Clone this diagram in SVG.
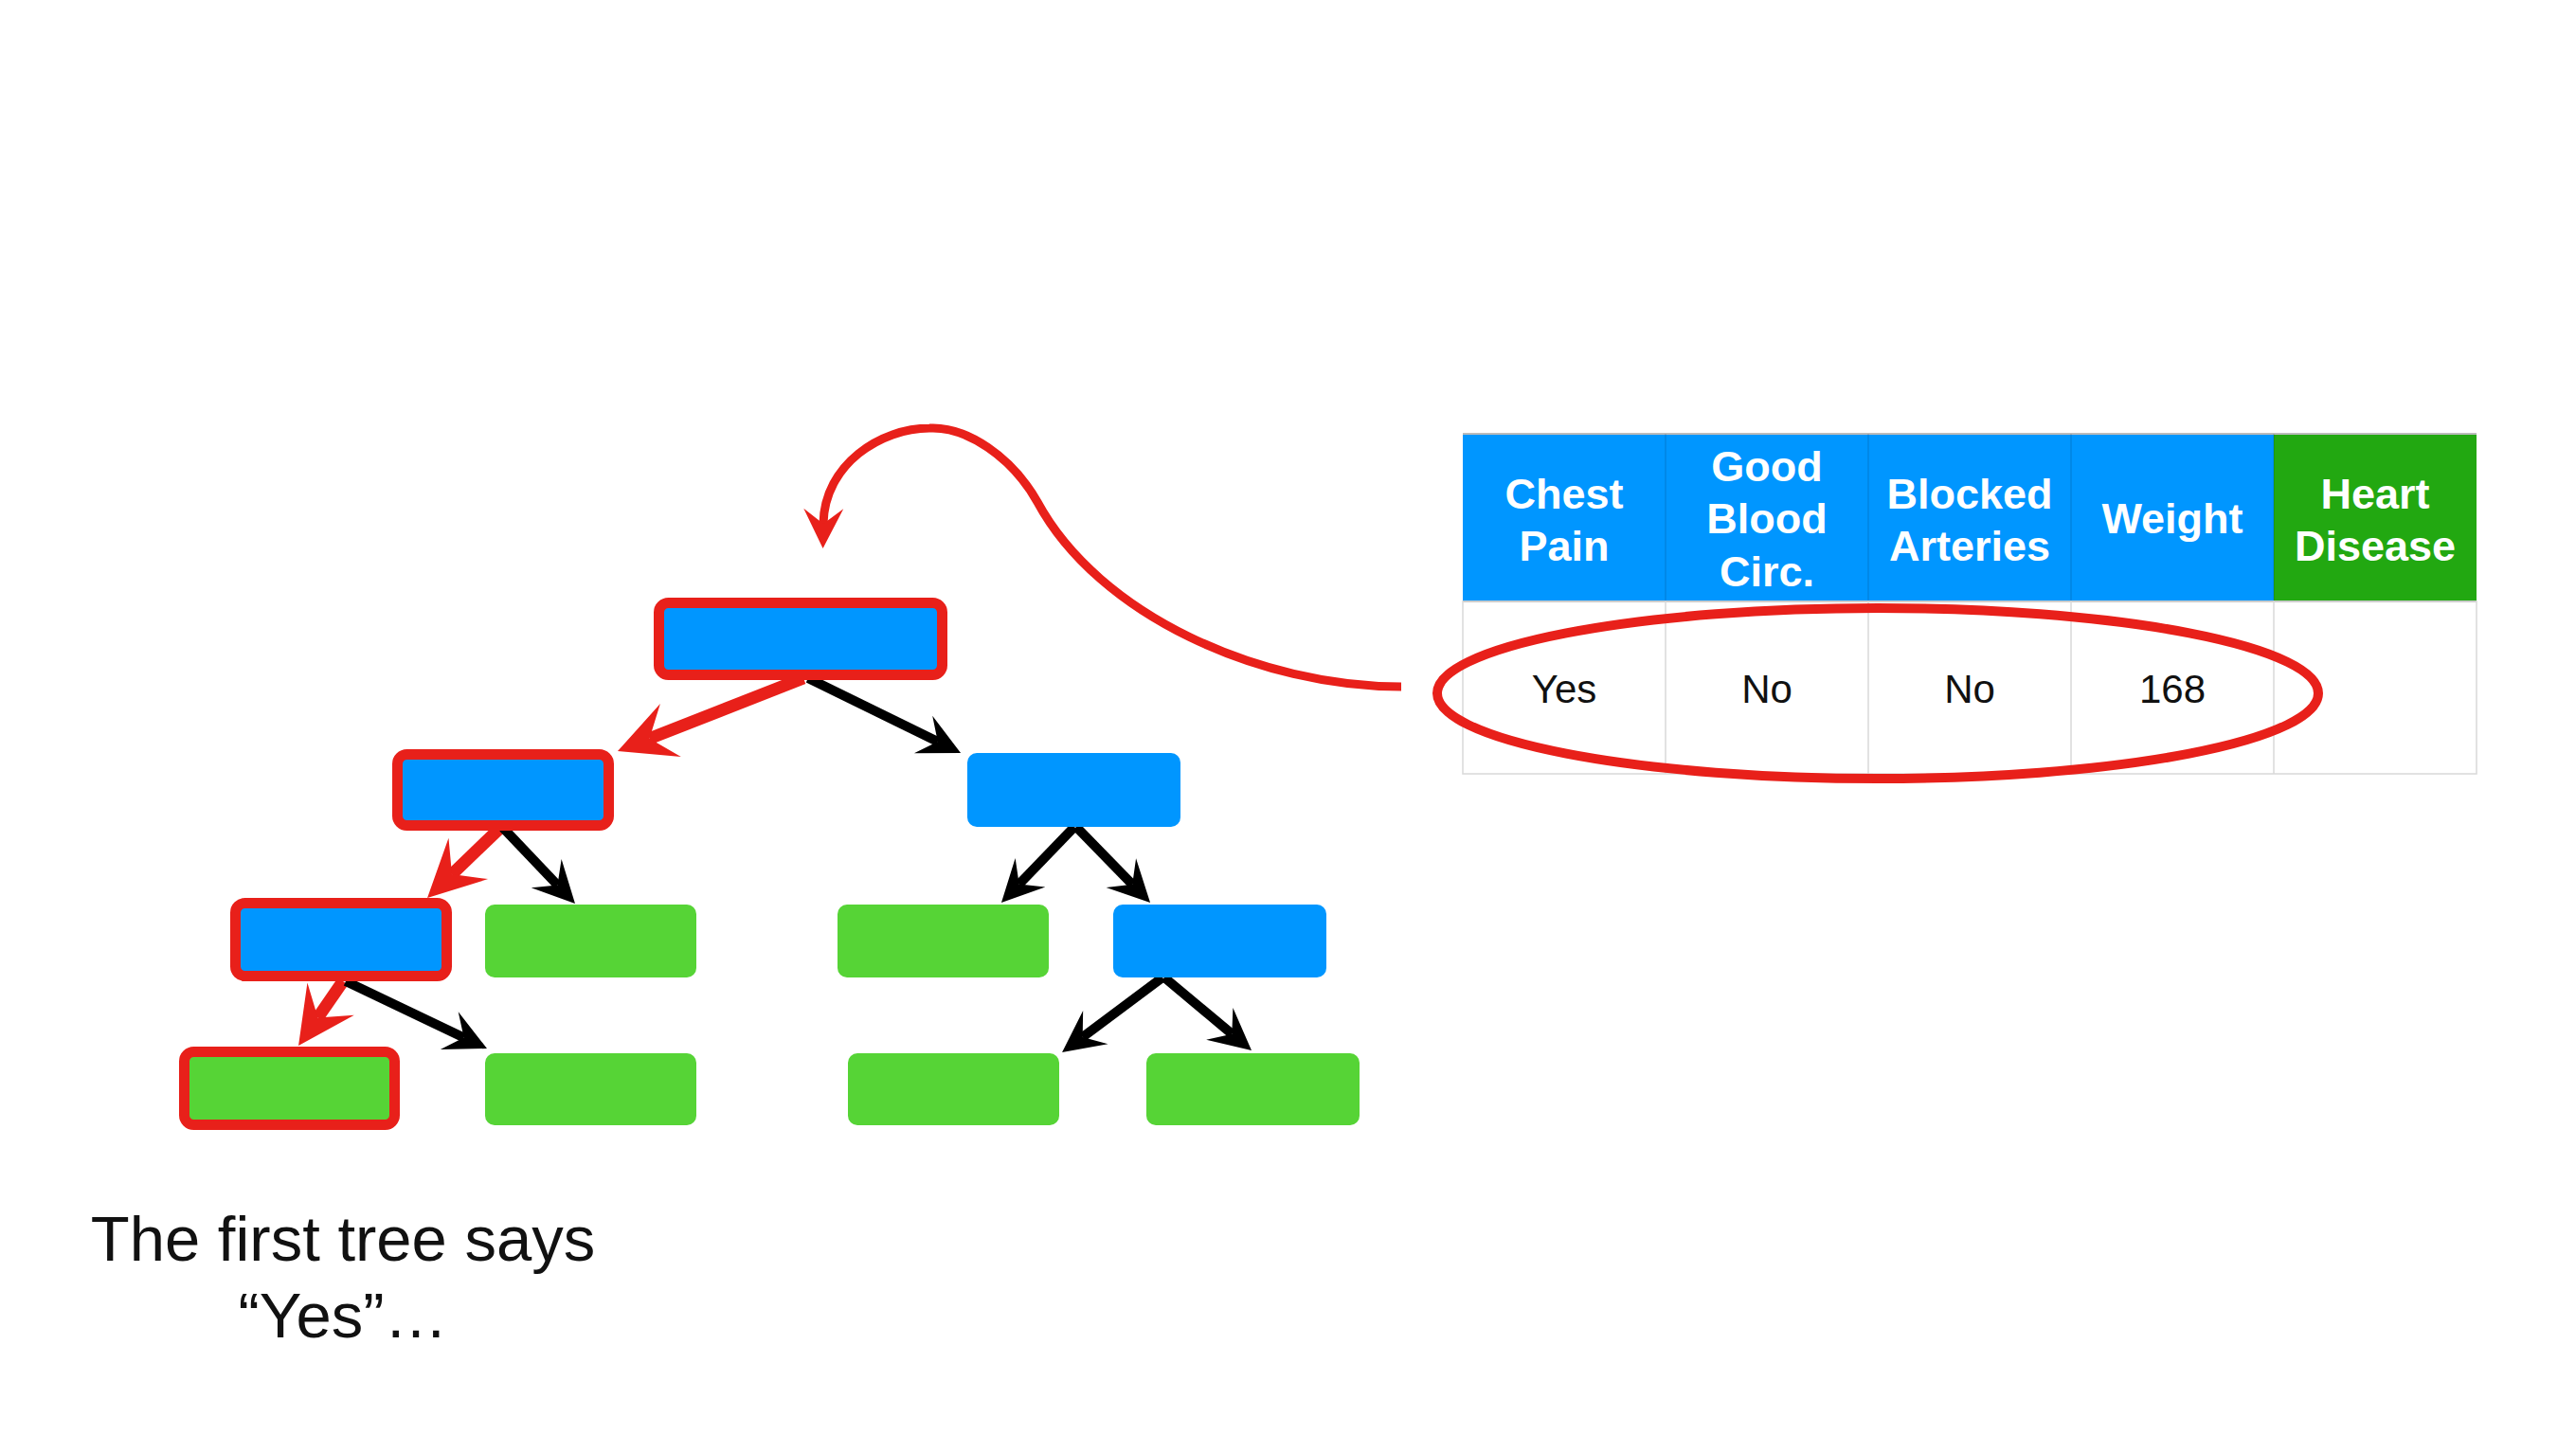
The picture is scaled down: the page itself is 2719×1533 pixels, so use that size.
<svg xmlns="http://www.w3.org/2000/svg" width="2719" height="1533" viewBox="0 0 2719 1533">
<style>
.blue{fill:#0096FF}
.green{fill:#56D436}
.hl{stroke:#E8201A;stroke-width:11}
.red-line{stroke:#E8201A;stroke-width:13;fill:none}
.blk-line{stroke:#000;stroke-width:10;fill:none}
.curve{stroke:#E8201A;stroke-width:9;fill:none}
.hdr{font-family:"Liberation Sans",Arial,sans-serif;font-weight:bold;font-size:45px;fill:#fff;text-anchor:middle}
.cell{font-family:"Liberation Sans",Arial,sans-serif;font-size:42px;fill:#111;text-anchor:middle}
.cap{font-family:"Liberation Sans",Arial,sans-serif;font-size:67px;fill:#111;text-anchor:middle}
.grid{stroke:#d9d9d9;stroke-width:1.5;fill:none}
.hgrid{stroke:#000;stroke-opacity:0.12;stroke-width:1.5}
</style>
<defs>
<marker id="headRed" markerUnits="userSpaceOnUse" orient="auto" refX="0" refY="0" markerWidth="80" markerHeight="80" overflow="visible">
<path d="M36,0 L-24,-30 L0,0 L-24,30 Z" fill="#E8201A"/>
</marker>
<marker id="headBlk" markerUnits="userSpaceOnUse" orient="auto" refX="0" refY="0" markerWidth="60" markerHeight="60" overflow="visible">
<path d="M27,0 L-17,-22 L0,0 L-17,22 Z" fill="#000"/>
</marker>
<marker id="headCurve" markerUnits="userSpaceOnUse" orient="auto" refX="0" refY="0" markerWidth="60" markerHeight="60" overflow="visible">
<path d="M26,0 L-16,-21 L0,0 L-16,21 Z" fill="#E8201A"/>
</marker>
</defs>
<rect x="0" y="0" width="2719" height="1533" fill="#fff"/>

<g id="connectors">
<path class="red-line" d="M848,716 L685.5,779.8" marker-end="url(#headRed)"/>
<path class="blk-line" d="M853,716 L989.8,783" marker-end="url(#headBlk)"/>
<path class="red-line" d="M528,874 L477,923.1" marker-end="url(#headRed)"/>
<path class="blk-line" d="M531,874 L588.4,934.4" marker-end="url(#headBlk)"/>
<path class="red-line" d="M362,1036 L335.5,1074.4" marker-end="url(#headRed)"/>
<path class="blk-line" d="M365,1036 L489.6,1095.4" marker-end="url(#headBlk)"/>
<path class="blk-line" d="M1134,873 L1075.7,933.5" marker-end="url(#headBlk)"/>
<path class="blk-line" d="M1136,873 L1195.2,933.7" marker-end="url(#headBlk)"/>
<path class="blk-line" d="M1227,1032 L1142.7,1094.9" marker-end="url(#headBlk)"/>
<path class="blk-line" d="M1229,1032 L1300.3,1091.7" marker-end="url(#headBlk)"/>
<path class="curve" d="M1479,725 C1330,725 1160,650 1095,530 C1068,482 1020,450 981,452 C930,452 870,490 869,553" marker-end="url(#headCurve)"/>
</g>

<g id="root"><rect class="blue hl" x="695.5" y="636.5" width="299" height="76" rx="10"/></g>
<g id="left1"><rect class="blue hl" x="419.5" y="796.5" width="223" height="75" rx="10"/></g>
<g id="left2"><rect class="blue hl" x="248.5" y="953.5" width="223" height="77" rx="10"/></g>
<g id="leafSelected"><rect class="green hl" x="194.5" y="1110.5" width="222" height="77" rx="10"/></g>
<g id="leafG1"><rect class="green" x="512" y="955" width="223" height="77" rx="10"/></g>
<g id="leafG2"><rect class="green" x="512" y="1112" width="223" height="76" rx="10"/></g>
<g id="right1"><rect class="blue" x="1021" y="795" width="225" height="78" rx="10"/></g>
<g id="leafGm"><rect class="green" x="884" y="955" width="223" height="77" rx="10"/></g>
<g id="right2"><rect class="blue" x="1175" y="955" width="225" height="77" rx="10"/></g>
<g id="leafG3"><rect class="green" x="895" y="1112" width="223" height="76" rx="10"/></g>
<g id="leafG4"><rect class="green" x="1210" y="1112" width="225" height="76" rx="10"/></g>

<g id="table">
<rect x="1544" y="458" width="856" height="177" fill="#0096FF"/>
<rect x="2400" y="458" width="214" height="177" fill="#22A811"/>
<line x1="1544" y1="458" x2="2614" y2="458" stroke="#bbb" stroke-width="2"/>
<line class="hgrid" x1="1758" y1="458" x2="1758" y2="635"/>
<line class="hgrid" x1="1972" y1="458" x2="1972" y2="635"/>
<line class="hgrid" x1="2186" y1="458" x2="2186" y2="635"/>
<line class="hgrid" x1="2400" y1="458" x2="2400" y2="635"/>
<line x1="1544" y1="635" x2="2614" y2="635" stroke="#aaa" stroke-width="2"/>
<rect class="grid" x="1544" y="635" width="1070" height="182"/>
<line class="grid" x1="1758" y1="635" x2="1758" y2="817"/>
<line class="grid" x1="1972" y1="635" x2="1972" y2="817"/>
<line class="grid" x1="2186" y1="635" x2="2186" y2="817"/>
<line class="grid" x1="2400" y1="635" x2="2400" y2="817"/>
<text class="hdr" x="1651" y="537">Chest</text>
<text class="hdr" x="1651" y="592">Pain</text>
<text class="hdr" x="1865" y="508">Good</text>
<text class="hdr" x="1865" y="563">Blood</text>
<text class="hdr" x="1865" y="619">Circ.</text>
<text class="hdr" x="2079" y="537">Blocked</text>
<text class="hdr" x="2079" y="592">Arteries</text>
<text class="hdr" x="2293" y="563">Weight</text>
<text class="hdr" x="2507" y="537">Heart</text>
<text class="hdr" x="2507" y="592">Disease</text>
<text class="cell" x="1651" y="742">Yes</text>
<text class="cell" x="1865" y="742">No</text>
<text class="cell" x="2079" y="742">No</text>
<text class="cell" x="2293" y="742">168</text>
</g>

<g id="highlight">
<ellipse cx="1982" cy="732" rx="465" ry="90" fill="none" stroke="#E8201A" stroke-width="10"/>
</g>

<g id="caption">
<text class="cap" x="362" y="1331">The first tree says</text>
<text class="cap" x="362" y="1412">“Yes”…</text>
</g>
</svg>
